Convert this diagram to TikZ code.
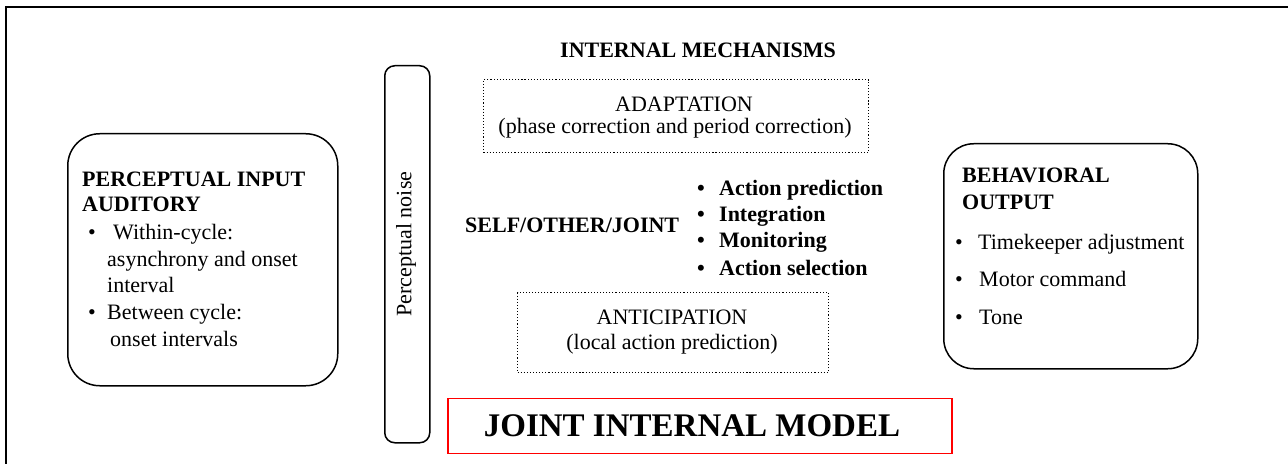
\documentclass[tikz,border=0pt]{standalone}
\usepackage{fontspec}
\setmainfont{Liberation Serif}
\begin{document}
\begin{tikzpicture}[x=1bp,y=-1bp,
  txt/.style={anchor=base west,inner sep=0pt,font=\fontsize{22bp}{26bp}\selectfont},
  btxt/.style={txt,font=\fontsize{22bp}{26bp}\selectfont\bfseries},
  ctxt/.style={anchor=base,inner sep=0pt,font=\fontsize{22bp}{26bp}\selectfont},
  roundbox/.style={draw,line width=1.5bp,inner sep=0pt,anchor=north west},
  dotbox/.style={draw,dotted,line width=1.1bp,inner sep=0pt,anchor=north west},
  redbox/.style={draw=red,line width=1.5bp,inner sep=0pt,anchor=north west}]
\useasboundingbox (0,0) rectangle (1288,464);
\fill[white] (0,0) rectangle (1288,464);
% outer frame
\coordinate (fa) at (6,464);
\coordinate (fb) at (6,7);
\coordinate (fc) at (1288,7);
\draw[line width=1.8bp] (fa) -- (fb) -- (fc);

% left box
\node[roundbox,rounded corners=32bp,minimum width=270bp,minimum height=252bp] (inbox) at (67,133) {};
\node[btxt] (in1) at (82,187) {PERCEPTUAL INPUT};
\node[btxt] (in2) at (82,212) {AUDITORY};
\node[txt] (inb1) at (88,240) {•};
\node[txt] (in3) at (113,240) {Within-cycle:};
\node[txt] (in4) at (107,267) {asynchrony and onset};
\node[txt] (in5) at (107,293) {interval};
\node[txt] (inb2) at (88,320) {•};
\node[txt] (in6) at (107,320) {Between cycle:};
\node[txt] (in7) at (110,347) {onset intervals};

% perceptual noise
\node[roundbox,rounded corners=10bp,minimum width=45bp,minimum height=377bp] (noise) at (384,65) {};
\node[ctxt,anchor=center,rotate=90] (noiset) at (406,244) {Perceptual noise};

% internal mechanisms
\node[btxt] (im) at (560,58) {INTERNAL MECHANISMS};

% adaptation
\node[dotbox,minimum width=385bp,minimum height=73bp] (adapt) at (483,79) {};
\node[ctxt] (ad1) at (684,112) {ADAPTATION};
\node[ctxt] (ad2) at (675,134) {(phase correction and period correction)};

% self/other/joint
\node[btxt] (soj) at (465,233) {SELF/OTHER/JOINT};
\node[btxt] (b1) at (697,196) {•};
\node[btxt] (l1) at (719,196) {Action prediction};
\node[btxt] (b2) at (697,222) {•};
\node[btxt] (l2) at (719,222) {Integration};
\node[btxt] (b3) at (697,248) {•};
\node[btxt] (l3) at (719,248) {Monitoring};
\node[btxt] (b4) at (697,276) {•};
\node[btxt] (l4) at (719,276) {Action selection};

% anticipation
\node[dotbox,minimum width=311bp,minimum height=80bp] (antic) at (517,292) {};
\node[ctxt] (an1) at (672,325) {ANTICIPATION};
\node[ctxt] (an2) at (672,350) {(local action prediction)};

% joint internal model
\node[redbox,minimum width=504bp,minimum height=55bp] (jim) at (447,398) {};
\node[anchor=base,inner sep=0pt,font=\fontsize{33bp}{38bp}\selectfont\bfseries] (jimt) at (692,437) {JOINT INTERNAL MODEL};

% right box
\node[roundbox,rounded corners=30bp,minimum width=254bp,minimum height=225bp] (outbox) at (943,143) {};
\node[btxt] (o1) at (962,183) {BEHAVIORAL};
\node[btxt] (o2) at (962,210) {OUTPUT};
\node[txt] (ob1) at (955,250) {•};
\node[txt] (o3) at (978,250) {Timekeeper adjustment};
\node[txt] (ob2) at (955,287) {•};
\node[txt] (o4) at (979,287) {Motor command};
\node[txt] (ob3) at (955,325) {•};
\node[txt] (o5) at (979,325) {Tone};
\end{tikzpicture}
\end{document}
